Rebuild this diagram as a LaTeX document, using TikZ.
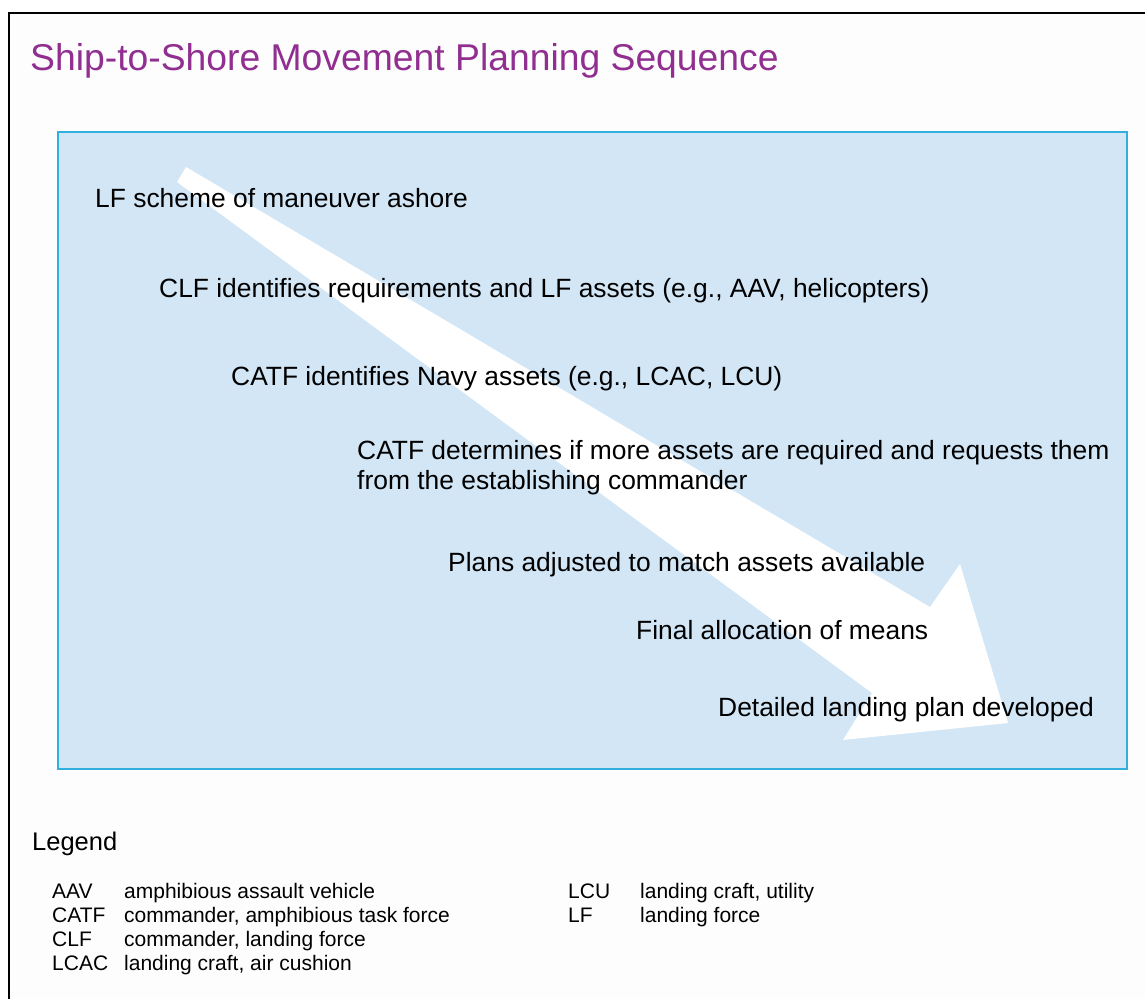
\documentclass[tikz,border=0pt]{standalone}
\usepackage{fontspec}
\setmainfont{Liberation Sans}
\definecolor{titlepurple}{RGB}{145,47,145}
\definecolor{panelblue}{RGB}{210,230,246}
\definecolor{paneledge}{RGB}{50,175,222}
\definecolor{pagebg}{RGB}{253,253,253}
\begin{document}
\begin{tikzpicture}[x=1pt,y=-1pt,
  body/.style={anchor=base west, inner sep=0pt, font=\fontsize{26.4}{30}\selectfont},
  legabbr/.style={anchor=base west, inner sep=0pt, font=\fontsize{21}{24}\selectfont},
  legtitle/.style={anchor=base west, inner sep=0pt, font=\fontsize{25.5}{28}\selectfont},
  titlestyle/.style={anchor=base west, inner sep=0pt, text=titlepurple, font=\fontsize{37.3}{40}\selectfont},
  panel/.style={fill=panelblue, draw=paneledge, line width=1.3pt},
  bigarrow/.style={fill=white}
]
\useasboundingbox (0,0) rectangle (1145,999);
\fill[white] (0,0) rectangle (1145,999);
\fill[pagebg] (9,13) rectangle (1145,999);
\draw[line width=2.2pt] (9,999) -- (9,13) -- (1145,13);

% panel
\draw[panel] (58,132) rectangle (1127,769);

% big white arrow
\fill[bigarrow] (186,167) -- (930,607) -- (960,564) -- (1008,723) -- (843,740) -- (872,693) -- (177,182) -- cycle;

% title
\node[titlestyle] (title) at (30,70) {Ship-to-Shore Movement Planning Sequence};

% sequence steps
\node[body] (s1) at (95,207) {LF scheme of maneuver ashore};
\node[body] (s2) at (159,297) {CLF identifies requirements and LF assets (e.g., AAV, helicopters)};
\node[body] (s3) at (231,385) {CATF identifies Navy assets (e.g., LCAC, LCU)};
\node[body] (s4a) at (357,459) {CATF determines if more assets are required and requests them};
\node[body] (s4b) at (357,489) {from the establishing commander};
\node[body] (s5) at (448,571) {Plans adjusted to match assets available};
\node[body] (s6) at (636,639) {Final allocation of means};
\node[body] (s7) at (718,716) {Detailed landing plan developed};

% legend
\node[legtitle] (legend) at (32,850) {Legend};
\node[legabbr] (aav) at (52,898) {AAV};
\node[legabbr] (aavd) at (124,898) {amphibious assault vehicle};
\node[legabbr] (catf) at (52,922) {CATF};
\node[legabbr] (catfd) at (124,922) {commander, amphibious task force};
\node[legabbr] (clf) at (52,946) {CLF};
\node[legabbr] (clfd) at (124,946) {commander, landing force};
\node[legabbr] (lcac) at (52,970) {LCAC};
\node[legabbr] (lcacd) at (124,970) {landing craft, air cushion};
\node[legabbr] (lcu) at (568,898) {LCU};
\node[legabbr] (lcud) at (640,898) {landing craft, utility};
\node[legabbr] (lf) at (568,922) {LF};
\node[legabbr] (lfd) at (640,922) {landing force};
\end{tikzpicture}
\end{document}
